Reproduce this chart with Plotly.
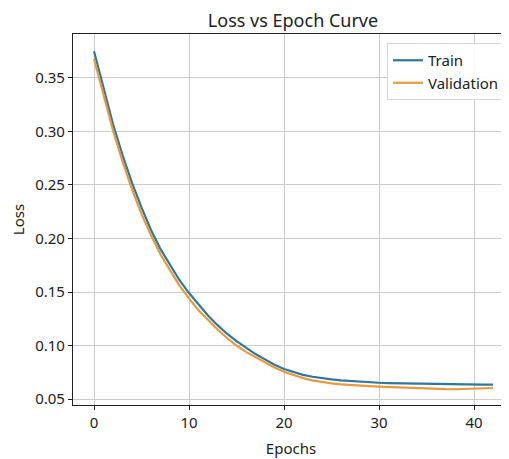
import plotly.graph_objects as go

epochs = list(range(43))
train_loss = [0.375, 0.340, 0.307, 0.278, 0.252, 0.229, 0.208, 0.190, 0.175, 0.161,
              0.149, 0.138, 0.128, 0.119, 0.111, 0.104, 0.098, 0.092, 0.087, 0.082,
              0.078, 0.0750, 0.0726, 0.0708, 0.0694, 0.0683, 0.0674, 0.0667, 0.0661, 0.0656,
              0.0652, 0.0649, 0.0647, 0.0645, 0.0643, 0.0642, 0.0641, 0.0640, 0.0639, 0.0638,
              0.0637, 0.0635, 0.0634]
val_loss = [0.368, 0.334, 0.301, 0.272, 0.246, 0.223, 0.203, 0.185, 0.170, 0.156,
            0.144, 0.133, 0.124, 0.115, 0.107, 0.100, 0.094, 0.089, 0.084, 0.0795,
            0.0755, 0.0722, 0.0695, 0.0674, 0.0658, 0.0646, 0.0637, 0.0630, 0.0625, 0.0620,
            0.0616, 0.0612, 0.0608, 0.0604, 0.0601, 0.0598, 0.0595, 0.0592, 0.0591, 0.0593,
            0.0597, 0.0600, 0.0603]
x_ticks = [0, 10, 20, 30, 40]
y_ticks = [0.05, 0.10, 0.15, 0.20, 0.25, 0.30, 0.35]

FONT = "Noto Sans"
fig = go.Figure()
fig.add_trace(go.Scatter(x=epochs, y=train_loss, mode="lines", name="Train",
                         line=dict(color="#2f77a0", width=2.2)))
fig.add_trace(go.Scatter(x=epochs, y=val_loss, mode="lines", name="Validation",
                         line=dict(color="#e8993e", width=2.2)))

# page body adds an 8px offset; figure is sized to fill the rest of the window
fig.update_layout(
    width=501, height=451,
    margin=dict(l=65, r=0, t=26, b=54),
    paper_bgcolor="white", plot_bgcolor="white",
    font=dict(family=FONT, size=15, color="#222"),
    title=dict(text="Loss vs Epoch Curve", x=0.5046, xref="paper", xanchor="center",
               y=1 - 13 / 451, yref="container", yanchor="middle",
               font=dict(family=FONT, size=18, color="#222")),
    showlegend=True,
    legend=dict(x=0.9908, y=0.9757, xanchor="right", yanchor="top",
                bgcolor="rgba(255,255,255,0.9)", bordercolor="#d6d6d6", borderwidth=1,
                font=dict(family=FONT, size=15, color="#222"),
                tracegroupgap=0, itemwidth=30),
)
fig.update_xaxes(range=[-2.21, 43.68], tickvals=x_ticks, ticks="outside", ticklen=4,
                 tickcolor="#222", showline=True, linecolor="#222", linewidth=1.2,
                 mirror=True, showgrid=True, gridcolor="#cbcbcb", gridwidth=1,
                 zeroline=False, tickfont=dict(size=15),
                 title=dict(text="Epochs", standoff=12, font=dict(size=15)))
fig.update_yaxes(range=[0.0444, 0.3911], tickvals=y_ticks, tickformat=".2f",
                 ticks="outside", ticklen=4, tickcolor="#222", showline=True,
                 linecolor="#222", linewidth=1.2, showgrid=True, gridcolor="#cbcbcb",
                 gridwidth=1, zeroline=False, tickfont=dict(size=15),
                 title=dict(text="Loss", standoff=15, font=dict(size=15)))

fig.write_html("out.html")
